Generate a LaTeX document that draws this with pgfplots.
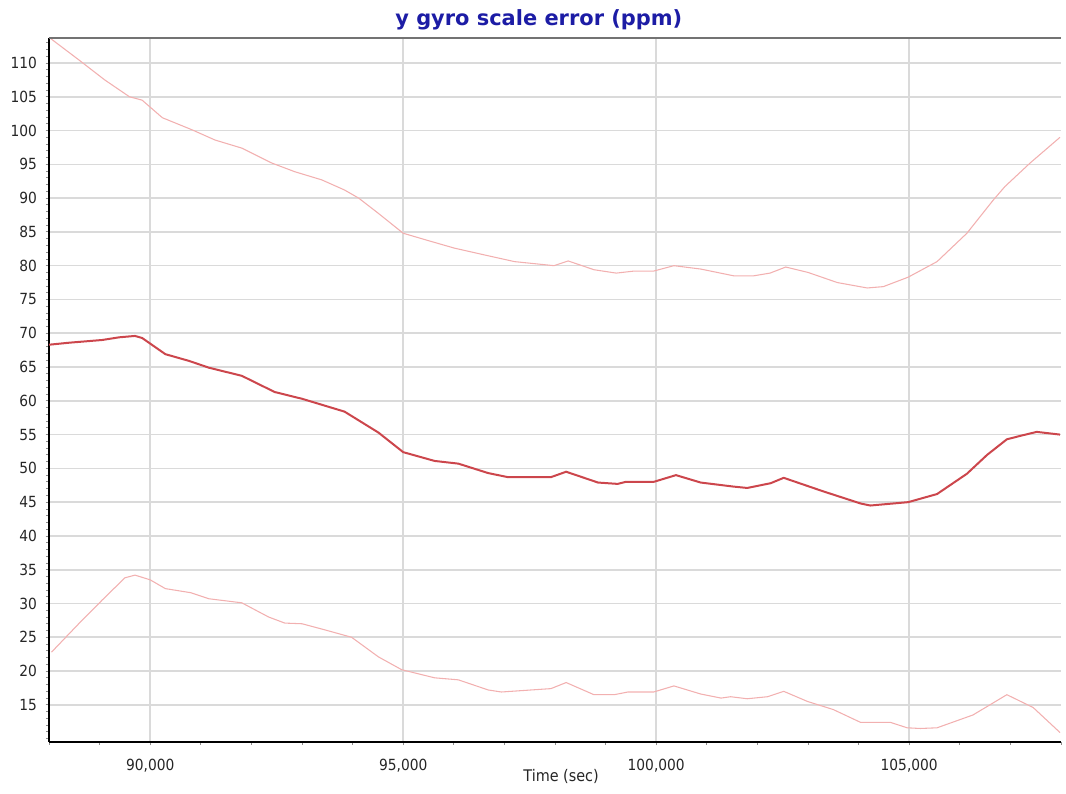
\documentclass[border=0pt]{standalone}
\usepackage{fontspec}
\setmainfont{DejaVu Sans}
\newfontfamily\condfont{DejaVu Sans Condensed}
\usepackage{pgfplots}
\pgfplotsset{compat=1.18}
\definecolor{midred}{RGB}{204,70,76}
\definecolor{lightred}{RGB}{242,176,176}
\definecolor{titleblue}{RGB}{28,28,165}
\definecolor{gridgray}{RGB}{218,218,218}
\begin{document}
\begin{tikzpicture}
\begin{axis}[
  scale only axis, width=759pt, height=528pt,
  xmin=88000, xmax=108000, ymin=9.5, ymax=113.7,
  axis x line*=bottom, axis y line*=left,
  x axis line style={black, line width=1.5pt, -},
  y axis line style={black, line width=2pt, -},
  xtick={90000,95000,100000,105000},
  minor xtick={88000,89000,...,108000},
  ytick={15,20,...,110},
  minor ytick={10,11,...,113},
  xmajorgrids, ymajorgrids,
  major grid style={gridgray, line width=1.2pt},
  tick style={black!45, line width=0.6pt},
  major tick length=2.5pt, minor tick length=2.2pt,
  tick align=outside,
  scaled x ticks=false,
  /pgf/number format/fixed,
  /pgf/number format/assume math mode=true,
  /pgf/number format/1000 sep={,},
  ticklabel style={font=\condfont\fontsize{11.5}{13}\selectfont, text=black!85},
  xticklabel style={anchor=base, yshift=-19pt},
  yticklabel style={anchor=east, xshift=-3pt},
  title={y gyro scale error (ppm)},
  title style={font=\bfseries\fontsize{15.7}{18}\selectfont, text=titleblue, at={(0.484,1)}, anchor=base, yshift=3pt},
  xlabel={Time (sec)},
  xlabel style={font=\condfont\fontsize{12}{14}\selectfont, text=black!85, at={(0.506,0)}, anchor=base, yshift=-30pt},
]
\addplot[lightred, line width=0.8pt] coordinates {
(88000,113.8) (88600,110.4) (89100,107.5) (89590,105.0) (89840,104.5) (90240,101.9)
(90830,100.1) (91280,98.6) (91810,97.4) (92400,95.2) (92860,93.9) (93390,92.7)
(93840,91.2) (94120,90.0) (94500,87.8) (95000,84.8) (95500,83.7) (96010,82.6)
(96600,81.6) (97200,80.6) (97980,80.0) (98260,80.7) (98770,79.4) (99210,78.9)
(99560,79.2) (99950,79.2) (100350,80.0) (100880,79.5) (101530,78.5) (101930,78.5)
(102250,78.9) (102560,79.8) (103000,79.0) (103580,77.5) (104170,76.7) (104490,76.9)
(104980,78.3) (105550,80.6) (106140,84.8) (106660,89.7) (106890,91.7) (107390,95.2)
(107980,99.0)
};
\addplot[midred, line width=1.5pt] coordinates {
(88000,68.3) (88400,68.6) (89050,69.0) (89390,69.4) (89700,69.6) (89840,69.3)
(90300,66.9) (90770,65.9) (91160,64.9) (91810,63.7) (92460,61.3) (93000,60.3)
(93840,58.4) (94510,55.3) (95000,52.4) (95620,51.1) (96090,50.7) (96680,49.3)
(97070,48.7) (97920,48.7) (98220,49.5) (98850,47.9) (99240,47.7) (99400,48.0)
(99950,48.0) (100390,49.0) (100880,47.9) (101530,47.3) (101800,47.1) (102260,47.8)
(102520,48.6) (103300,46.6) (104040,44.8) (104230,44.5) (104980,45.0) (105550,46.2)
(106140,49.2) (106540,52.0) (106930,54.3) (107190,54.8) (107520,55.4) (107980,55.0)
};
\addplot[lightred, line width=0.8pt] coordinates {
(88050,22.8) (88600,27.1) (89050,30.5) (89500,33.8) (89700,34.2) (90000,33.5)
(90300,32.2) (90800,31.6) (91160,30.7) (91810,30.1) (92340,28.0) (92660,27.1)
(93000,27.0) (93450,26.1) (93980,25.0) (94510,22.1) (94970,20.2) (95620,19.0)
(96090,18.7) (96680,17.2) (96940,16.9) (97920,17.4) (98220,18.3) (98770,16.5)
(99170,16.5) (99440,16.9) (99950,16.9) (100350,17.8) (100880,16.6) (101280,16.0)
(101470,16.2) (101800,15.9) (102200,16.2) (102520,17.0) (102990,15.5) (103500,14.3)
(104040,12.4) (104630,12.4) (104960,11.6) (105220,11.5) (105550,11.6) (106260,13.5)
(106930,16.5) (107450,14.6) (107980,10.9)
};
\draw[black!55, line width=1.5pt] (rel axis cs:0,1) -- (rel axis cs:1,1);
\end{axis}
\pgfresetboundingbox
\useasboundingbox ([xshift=-36.75pt,yshift=-39pt]current axis.south west) rectangle ([xshift=3.75pt,yshift=28.5pt]current axis.north east);
\end{tikzpicture}
\end{document}
